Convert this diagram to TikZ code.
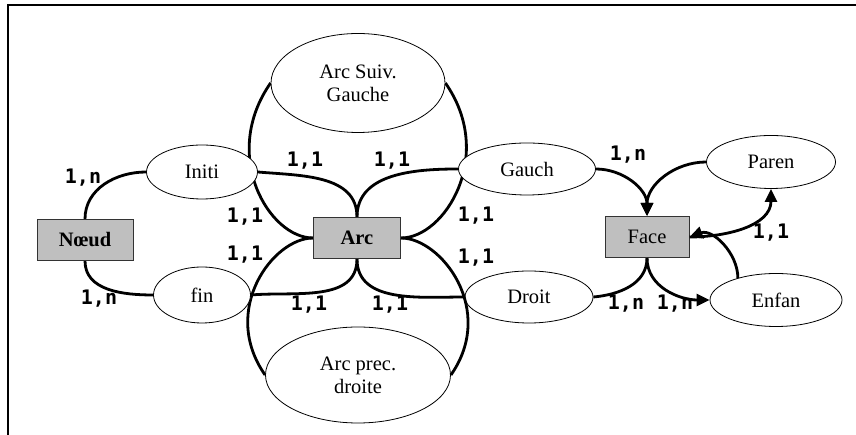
\documentclass[tikz,border=0pt]{standalone}
\usepackage{fontspec}
\setmainfont{Liberation Serif}
\newfontfamily\cardfont{DejaVu Sans Mono}
\usetikzlibrary{shapes.geometric,arrows.meta,backgrounds}

\begin{document}
\begin{tikzpicture}[x=1pt,y=1pt,
        ent/.style={rectangle,draw=black!80,fill=black!25,line width=1pt,
          inner sep=0pt,font=\fontsize{20.5}{24}\selectfont},
        rel/.style={ellipse,draw,fill=white,line width=0.8pt,inner sep=0pt,
          align=center,font=\fontsize{20.5}{23}\selectfont},
        lien/.style={line width=2.8pt},
        fl/.style={-{Triangle[length=13pt,width=12pt]}},
        card/.style={font=\cardfont\bfseries\fontsize{20}{20}\selectfont}]
      \useasboundingbox (0,0) rectangle (856,435);
      \draw[line width=2pt] (856,430) -- (8,430) -- (8,0);
      % entites
      \node (1) at ( 85,195) [ent,minimum width=96pt,minimum height=41pt] {\textbf{Nœud}};
      \node (2) at (357,197) [ent,minimum width=87pt,minimum height=41pt] {\textbf{Arc}};
      \node (3) at (647,198) [ent,minimum width=84pt,minimum height=41pt] {Face};
      % associations
      \node (4) at (202,263) [rel,minimum width=111pt,minimum height=54pt] {Initi};
      \node (5) at (202,140) [rel,minimum width=97pt,minimum height=56pt] {fin};
      \node (6) at (527,266) [rel,minimum width=137pt,minimum height=52pt] {Gauch};
      \node (7) at (529,138) [rel,minimum width=128pt,minimum height=52pt] {Droit};
      \node (8) at (771,273) [rel,minimum width=129pt,minimum height=53pt] {Paren};
      \node (9) at (776,135) [rel,minimum width=132pt,minimum height=53pt] {Enfan};
      \node (10) at (358,352) [rel,minimum width=174pt,minimum height=99pt] {Arc Suiv.\\Gauche};
      \node (11) at (358,60) [rel,minimum width=185pt,minimum height=96pt] {Arc prec.\\droite};
      \begin{scope}[on background layer]
      \draw[lien] (1.north) edge[out=90,in=180] (4.west);
      \draw[lien] (1.south) edge[out=-90,in=180] (5.west);
      \draw[lien] (4.east) edge[out=-5,in=90] (2.north);
      \draw[lien] (5.east) edge[out=5,in=-90] (2.south);
      \draw[lien] (6.west) edge[out=180,in=90] (2.north);
      \draw[lien] (7.west) edge[out=180,in=-90] (2.south);
      \draw[lien] (10.west) edge[out=235,in=180,out looseness=1.4,in looseness=0.7] (2.west);
      \draw[lien] (10.east) edge[out=-55,in=0,out looseness=1.4,in looseness=0.7] (2.east);
      \draw[lien] (11.west) edge[out=125,in=180,out looseness=1.4,in looseness=0.7] (2.west);
      \draw[lien] (7.east) edge[out=5,in=-90] (3.south);
      \end{scope}
      \draw[lien] (11.east) edge[out=55,in=0,out looseness=1.4,in looseness=0.7] (2.east);
      \draw[lien] (6.east) edge[out=0,in=90,fl] (3.north);
      \draw[lien] (8.west) edge[out=180,in=90,fl] (3.north);
      \draw[lien] (3.east) edge[out=0,in=-90,fl] (8.south);
      \draw[lien] (9.150) edge[out=90,in=20,fl] (3.east);
      \draw[lien] (3.south) edge[out=-90,in=180,fl] (9.west);
      % cardinalites
      \node (c1) at ( 83,257) [card] {1,n};
      \node (c2) at ( 99,136) [card] {1,n};
      \node (c3) at (305,274) [card] {1,1};
      \node (c4) at (392,274) [card] {1,1};
      \node (c5) at (245,218) [card] {1,1};
      \node (c6) at (245,180) [card] {1,1};
      \node (c7) at (309,130) [card] {1,1};
      \node (c8) at (390,130) [card] {1,1};
      \node (c9) at (476,219) [card] {1,1};
      \node (c10) at (476,177) [card] {1,1};
      \node (c11) at (628,280) [card] {1,n};
      \node (c12) at (626,131) [card] {1,n};
      \node (c13) at (675,131) [card] {1,n};
      \node (c14) at (771,202) [card] {1,1};
\end{tikzpicture}
\end{document}
